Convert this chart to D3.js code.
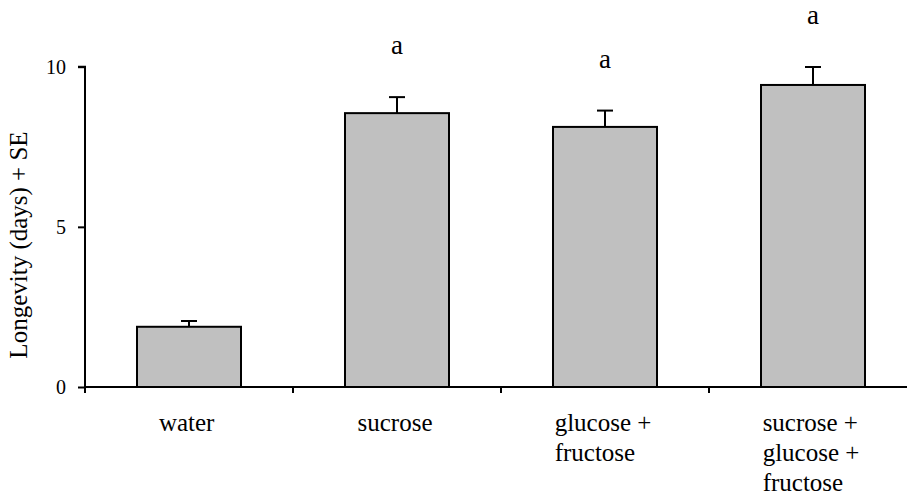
<!DOCTYPE html>
<html><head><meta charset="utf-8">
<script src="https://cdn.jsdelivr.net/npm/d3@7"></script>
<style>body{margin:0;background:#fff}svg{display:block}text{font-family:"Liberation Serif","Times New Roman",serif;fill:#000}</style>
</head><body><svg id="c" width="907" height="497"></svg>
<script>
const categories = [["water"],["sucrose"],["glucose +","fructose"],["sucrose +","glucose +","fructose"]];
const means = [1.88, 8.55, 8.12, 9.43];
const ses = [0.18, 0.50, 0.51, 0.56];
const letters = ["", "a", "a", "a"];
const yTicks = [0, 5, 10];
const yTitle = "Longevity (days) + SE";

const svg = d3.select("#c");
const keys = categories.map((c,i)=>String(i));
const x = d3.scaleBand().domain(keys).range([85, 917]).paddingInner(0.5).paddingOuter(0.25);
const y = d3.scaleLinear().domain([0, 10]).range([387, 66.7]);

// bars
svg.selectAll("rect.bar").data(means).join("rect")
  .attr("x",(d,i)=>x(keys[i])).attr("width",x.bandwidth())
  .attr("y",d=>y(d)).attr("height",d=>y(0)-y(d))
  .attr("fill","#c0c0c0").attr("stroke","#000").attr("stroke-width",2);

// error bars
const eb = svg.append("g").attr("stroke","#000").attr("stroke-width",2);
means.forEach((m,i)=>{
  const cx = x(keys[i]) + x.bandwidth()/2;
  eb.append("line").attr("x1",cx).attr("x2",cx).attr("y1",y(m)).attr("y2",y(m+ses[i]));
  eb.append("line").attr("x1",cx-8).attr("x2",cx+8).attr("y1",y(m+ses[i])).attr("y2",y(m+ses[i]));
});

// significance letters
svg.selectAll("text.let").data(letters).join("text")
  .attr("x",(d,i)=>x(keys[i]) + x.bandwidth()/2)
  .attr("y",(d,i)=>y(means[i]+ses[i]) - 43)
  .attr("text-anchor","middle").attr("font-size",27).text(d=>d);

// y axis
const yAxis = d3.axisLeft(y).tickValues(yTicks).tickSize(7).tickPadding(12).tickFormat(d3.format("d"));
const gy = svg.append("g").attr("transform","translate(85,0)").call(yAxis);
gy.attr("font-family",null);
gy.select(".domain").attr("stroke","#000").attr("stroke-width",2).attr("d",`M-7,${y(10)}H0V${y(0)}`);
gy.selectAll(".tick line").attr("stroke","#000").attr("stroke-width",2);
gy.selectAll(".tick text").attr("font-size",20).attr("fill","#000");

// x axis
const gx = svg.append("g");
gx.append("line").attr("x1",85).attr("x2",907).attr("y1",y(0)).attr("y2",y(0)).attr("stroke","#000").attr("stroke-width",2);
keys.forEach(k=>{
  const tx = x(k) - x.step()*x.paddingOuter();
  gx.append("line").attr("x1",tx).attr("x2",tx).attr("y1",y(0)).attr("y2",y(0)+6).attr("stroke","#000").attr("stroke-width",2);
});

// category labels (block centered, lines left aligned)
categories.forEach((lines,i)=>{
  const cx = x(keys[i]) + x.bandwidth()/2 - 2;
  const t = svg.append("text").attr("font-size",25).attr("y",431);
  lines.forEach((s,j)=>t.append("tspan").attr("x",0).attr("dy", j===0?0:30).text(s));
  const w = t.node().getBBox().width;
  t.selectAll("tspan").attr("x", cx - w/2);
});

// y title
svg.append("text").attr("transform","translate(27,245) rotate(-90)")
  .attr("text-anchor","middle").attr("font-size",25).text(yTitle);
</script></body></html>
